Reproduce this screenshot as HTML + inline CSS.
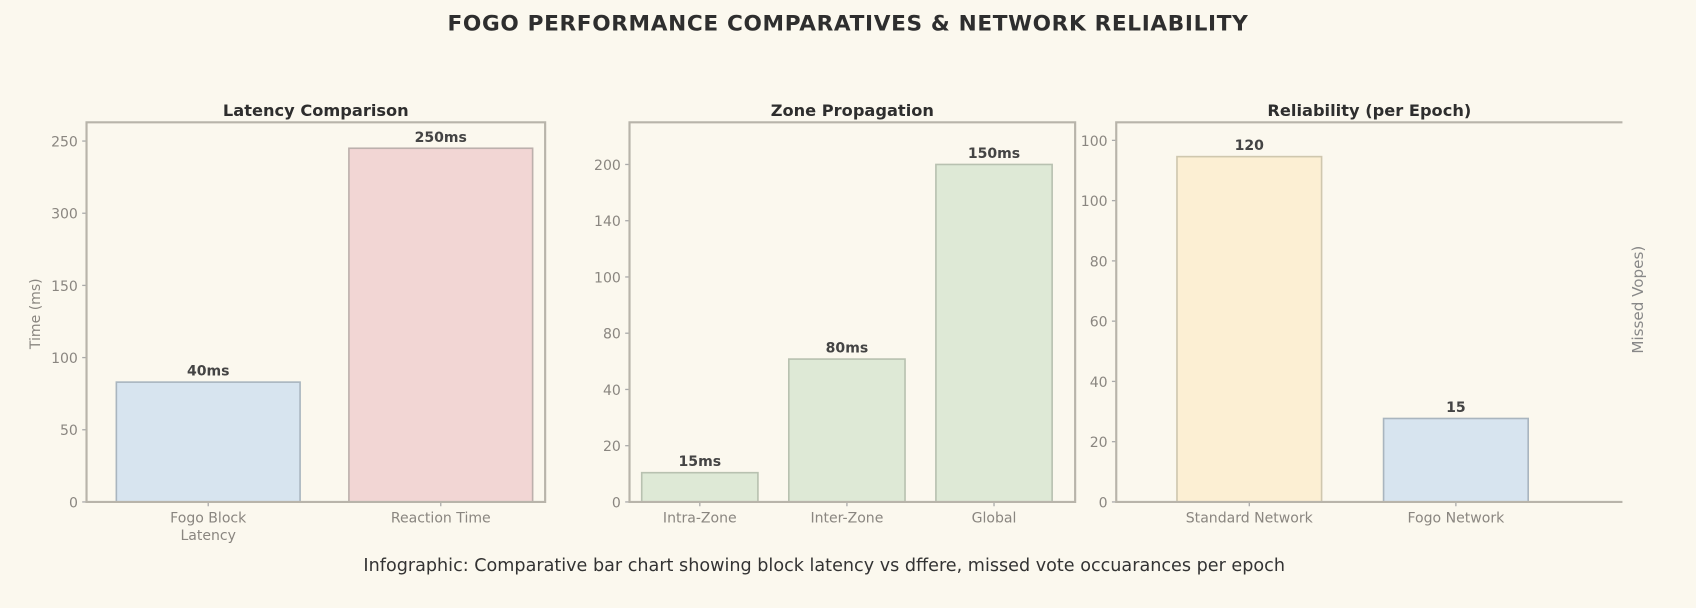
<!DOCTYPE html>
<html><head><meta charset="utf-8"><style>
html,body{margin:0;padding:0;background:#fbf8ee;}
svg{display:block;}
text{font-family:"DejaVu Sans","Liberation Sans",sans-serif;}
</style></head><body>
<svg id="root" width="1696" height="608" viewBox="0 0 1568 562" xmlns="http://www.w3.org/2000/svg">
<rect x="0" y="0" width="1568" height="562" fill="#fbf8ee"/>
<text x="784" y="28" text-anchor="middle" font-size="20" font-weight="bold" fill="#2e2e2e" letter-spacing="0.6">FOGO PERFORMANCE COMPARATIVES &amp; NETWORK RELIABILITY</text>
<text x="762" y="528" text-anchor="middle" font-size="16" fill="#333" font-family="Liberation Sans, sans-serif" textLength="852" lengthAdjust="spacingAndGlyphs">Infographic: Comparative bar chart showing block latency vs dffere, missed vote occuarances per epoch</text>
<text transform="translate(1519,277) rotate(-90)" text-anchor="middle" font-size="14" fill="#888">Missed Vopes)</text>
<text transform="translate(37,290) rotate(-90)" text-anchor="middle" font-size="13" fill="#8a8680">Time (ms)</text>
</svg>
<script>
// Chart 1: Latency Comparison
const c1Categories = ["Fogo Block|Latency", "Reaction Time"];
const c1Values = [83, 245];
const c1ValueLabels = ["40ms", "250ms"];
const c1TickValues = [0, 50, 100, 150, 200, 250];
const c1TickLabels = ["0", "50", "100", "150", "300", "250"];
// Chart 2: Zone Propagation
const c2Categories = ["Intra-Zone", "Inter-Zone", "Global"];
const c2Values = [10.4, 50.8, 120];
const c2ValueLabels = ["15ms", "80ms", "150ms"];
const c2TickValues = [0, 20, 40, 60, 80, 100, 120];
const c2TickLabels = ["0", "20", "40", "80", "100", "140", "200"];
// Chart 3: Reliability
const c3Categories = ["Standard Network", "Fogo Network"];
const c3Values = [114.6, 27.7];
const c3ValueLabels = ["120", "15"];
const c3TickValues = [0, 20, 40, 60, 80, 100, 120];
const c3TickLabels = ["0", "20", "40", "60", "80", "100", "100"];

const NS = "http://www.w3.org/2000/svg";
const root = document.getElementById("root");
function mk(tag, attrs, parent) {
  const e = document.createElementNS(NS, tag);
  for (const k in attrs) e.setAttribute(k, attrs[k]);
  (parent || root).appendChild(e);
  return e;
}
function drawChart(cfg) {
  const g = mk("g", {});
  
  
  const y = v => cfg.bottom - (v - 0) / cfg.max * (cfg.bottom - cfg.top);
  const xCenter = i => cfg.left + cfg.padL + (i + 0.5) * cfg.slot;
  const barW = cfg.slot * cfg.barFrac;
  const t = mk("text", {x: (cfg.left + cfg.right) / 2, y: 107, "text-anchor": "middle", "font-size": 15, "font-weight": "bold", fill: "#2e2e2e"}, g);
  t.textContent = cfg.title;
  
  
  cfg.vals.forEach((v, i) => {
    const r = mk("rect", {x: xCenter(i) - barW / 2, y: y(v), width: barW, height: y(0) - y(v), fill: cfg.fills[i], stroke: cfg.strokes[i], "stroke-width": 1.5}, g);
    
    
    const l = mk("text", {x: xCenter(i), y: y(v) - 6, "text-anchor": "middle", "font-size": 13, "font-weight": "bold", fill: "#444"}, g);
    l.textContent = cfg.vlabels[i];
    
    
    const parts = cfg.cats[i].split("|");
    parts.forEach((p, j) => {
      const xl = mk("text", {x: xCenter(i), y: cfg.bottom + 19 + j * 16, "text-anchor": "middle", "font-size": 13, fill: "#8a8680"}, g);
      xl.textContent = p;
      
      
    });
    const tk = mk("line", {x1: xCenter(i), x2: xCenter(i), y1: cfg.bottom, y2: cfg.bottom + 4, stroke: "#aaa", "stroke-width": 1.2}, g);
    
    
  });
  cfg.ticks.forEach((tv, i) => {
    const tl = mk("line", {x1: cfg.left - 4, x2: cfg.left, y1: y(tv), y2: y(tv), stroke: "#aaa", "stroke-width": 1.2}, g);
    
    
    const tx = mk("text", {x: cfg.left - 8, y: y(tv) + 5, "text-anchor": "end", "font-size": 13, fill: "#8a8680"}, g);
    tx.textContent = cfg.tlabels[i];
    
    
  });
  let d;
  if (cfg.openRight) d = `M${cfg.right},${cfg.top} L${cfg.left},${cfg.top} L${cfg.left},${cfg.bottom} L${cfg.right},${cfg.bottom}`;
  else d = `M${cfg.left},${cfg.top} H${cfg.right} V${cfg.bottom} H${cfg.left} Z`;
  const f = mk("path", {d: d, fill: "none", stroke: "#b8b4aa", "stroke-width": 2}, g);
  
  
}
drawChart({name: "latency-comparison-chart", title: "Latency Comparison", left: 80, right: 504, top: 113, bottom: 464, max: 263, padL: 5, slot: 215,
  barFrac: 0.79, cats: c1Categories, vals: c1Values, vlabels: c1ValueLabels, ticks: c1TickValues, tlabels: c1TickLabels,
  fills: ["#d7e4ef", "#f2d6d4"], strokes: ["#a9b5bf", "#bcb0ac"]});
drawChart({name: "zone-propagation-chart", title: "Zone Propagation", left: 582, right: 994, top: 113, bottom: 464, max: 135, padL: -3, slot: 136,
  barFrac: 0.79, cats: c2Categories, vals: c2Values, vlabels: c2ValueLabels, ticks: c2TickValues, tlabels: c2TickLabels,
  fills: ["#dee9d6", "#dee9d6", "#dee9d6"], strokes: ["#b8c1b0", "#b8c1b0", "#b8c1b0"]});
drawChart({name: "reliability-chart", title: "Reliability (per Epoch)", left: 1032, right: 1500, top: 113, bottom: 464, max: 126, padL: 27.5, slot: 191,
  barFrac: 0.7, cats: c3Categories, vals: c3Values, vlabels: c3ValueLabels, ticks: c3TickValues, tlabels: c3TickLabels,
  fills: ["#fcefd3", "#d7e4ef"], strokes: ["#cfc7ae", "#a9b5bf"], openRight: true});
</script>
</body></html>
